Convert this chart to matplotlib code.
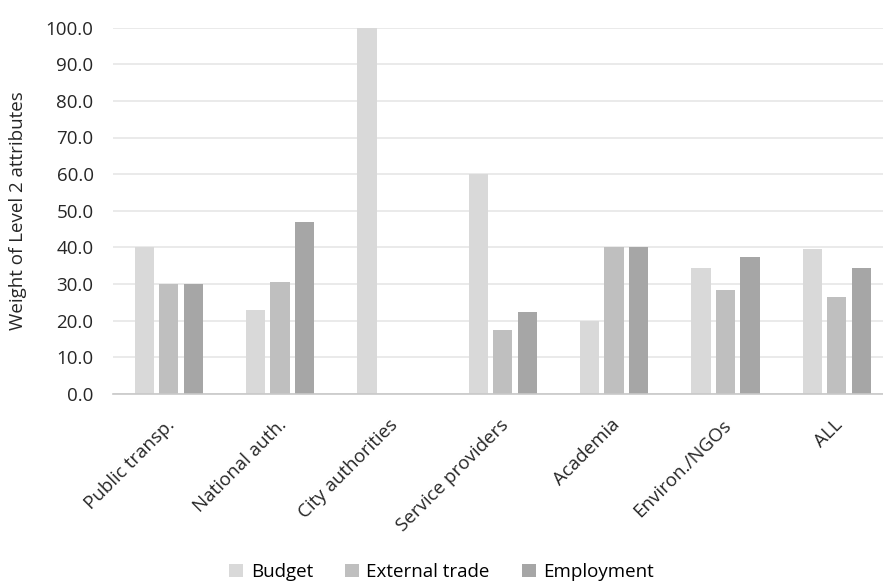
import matplotlib
matplotlib.use("Agg")
import matplotlib.pyplot as plt
import matplotlib.transforms as mtransforms
import numpy as np

categories = ["Public transp.", "National auth.", "City authorities", "Service providers",
              "Academia", "Environ./NGOs", "ALL"]
budget = [40.0, 23.0, 100.0, 60.0, 20.0, 34.3, 39.5]
external_trade = [30.0, 30.5, 0.0, 17.5, 40.0, 28.4, 26.5]
employment = [30.0, 46.8, 0.0, 22.4, 40.0, 37.4, 34.3]
yticks = np.arange(0, 101, 10)

plt.rcParams['font.family'] = ['Open Sans', 'DejaVu Sans']

W, H = 883, 583
fig = plt.figure(figsize=(W / 100, H / 100), dpi=100)
# the plot area runs slightly past the right edge of the canvas
left, right, top, bottom = 113.0, 892.5, 27.7, 393.7
ax = fig.add_axes([left / W, 1 - bottom / H, (right - left) / W, (bottom - top) / H])

x = np.arange(len(categories))
w = 0.173
step = 0.22
series = [("Budget", budget, "#d9d9d9"),
          ("External trade", external_trade, "#bfbfbf"),
          ("Employment", employment, "#a6a6a6")]
for i, (name, vals, col) in enumerate(series):
    ax.bar(x + (i - 1) * step, vals, width=w, color=col, label=name, zorder=2)

fs = 13.5
ax.set_xlim(-0.5, len(categories) - 0.5)
ax.set_ylim(0, 100)
ax.set_yticks(yticks)
ax.set_yticklabels([f"{v:.1f}" for v in yticks], fontsize=fs, color="#262626")
ax.yaxis.grid(True, color="#e6e6e6", linewidth=1.2, zorder=0)
ax.set_axisbelow(True)
ax.tick_params(axis="y", length=0, pad=14)
ax.tick_params(axis="x", length=0, pad=16)
ax.set_xticks(x)
ax.set_xticklabels(categories, rotation=45, ha="right", rotation_mode="anchor",
                   fontsize=fs, color="#262626")
shift = mtransforms.ScaledTranslation(-0.03, 0, fig.dpi_scale_trans)
for lbl in ax.get_xticklabels():
    lbl.set_transform(lbl.get_transform() + shift)
for s in ["top", "right", "left"]:
    ax.spines[s].set_visible(False)
ax.spines["bottom"].set_color("#c8c8c8")
ax.spines["bottom"].set_linewidth(1.2)
ax.set_ylabel("Weight of Level 2 attributes", fontsize=fs, color="#262626")
ax.yaxis.set_label_coords(-(left - 27) / (right - left), 0.5)

handles, labels = ax.get_legend_handles_labels()
fig.legend(handles, labels, loc="center", bbox_to_anchor=(0.5, 1 - 572 / H), ncol=3,
           frameon=False, fontsize=fs, handlelength=0.75, handleheight=0.75,
           handletextpad=0.4, columnspacing=1.7)

fig.savefig("out.png", dpi=100)
